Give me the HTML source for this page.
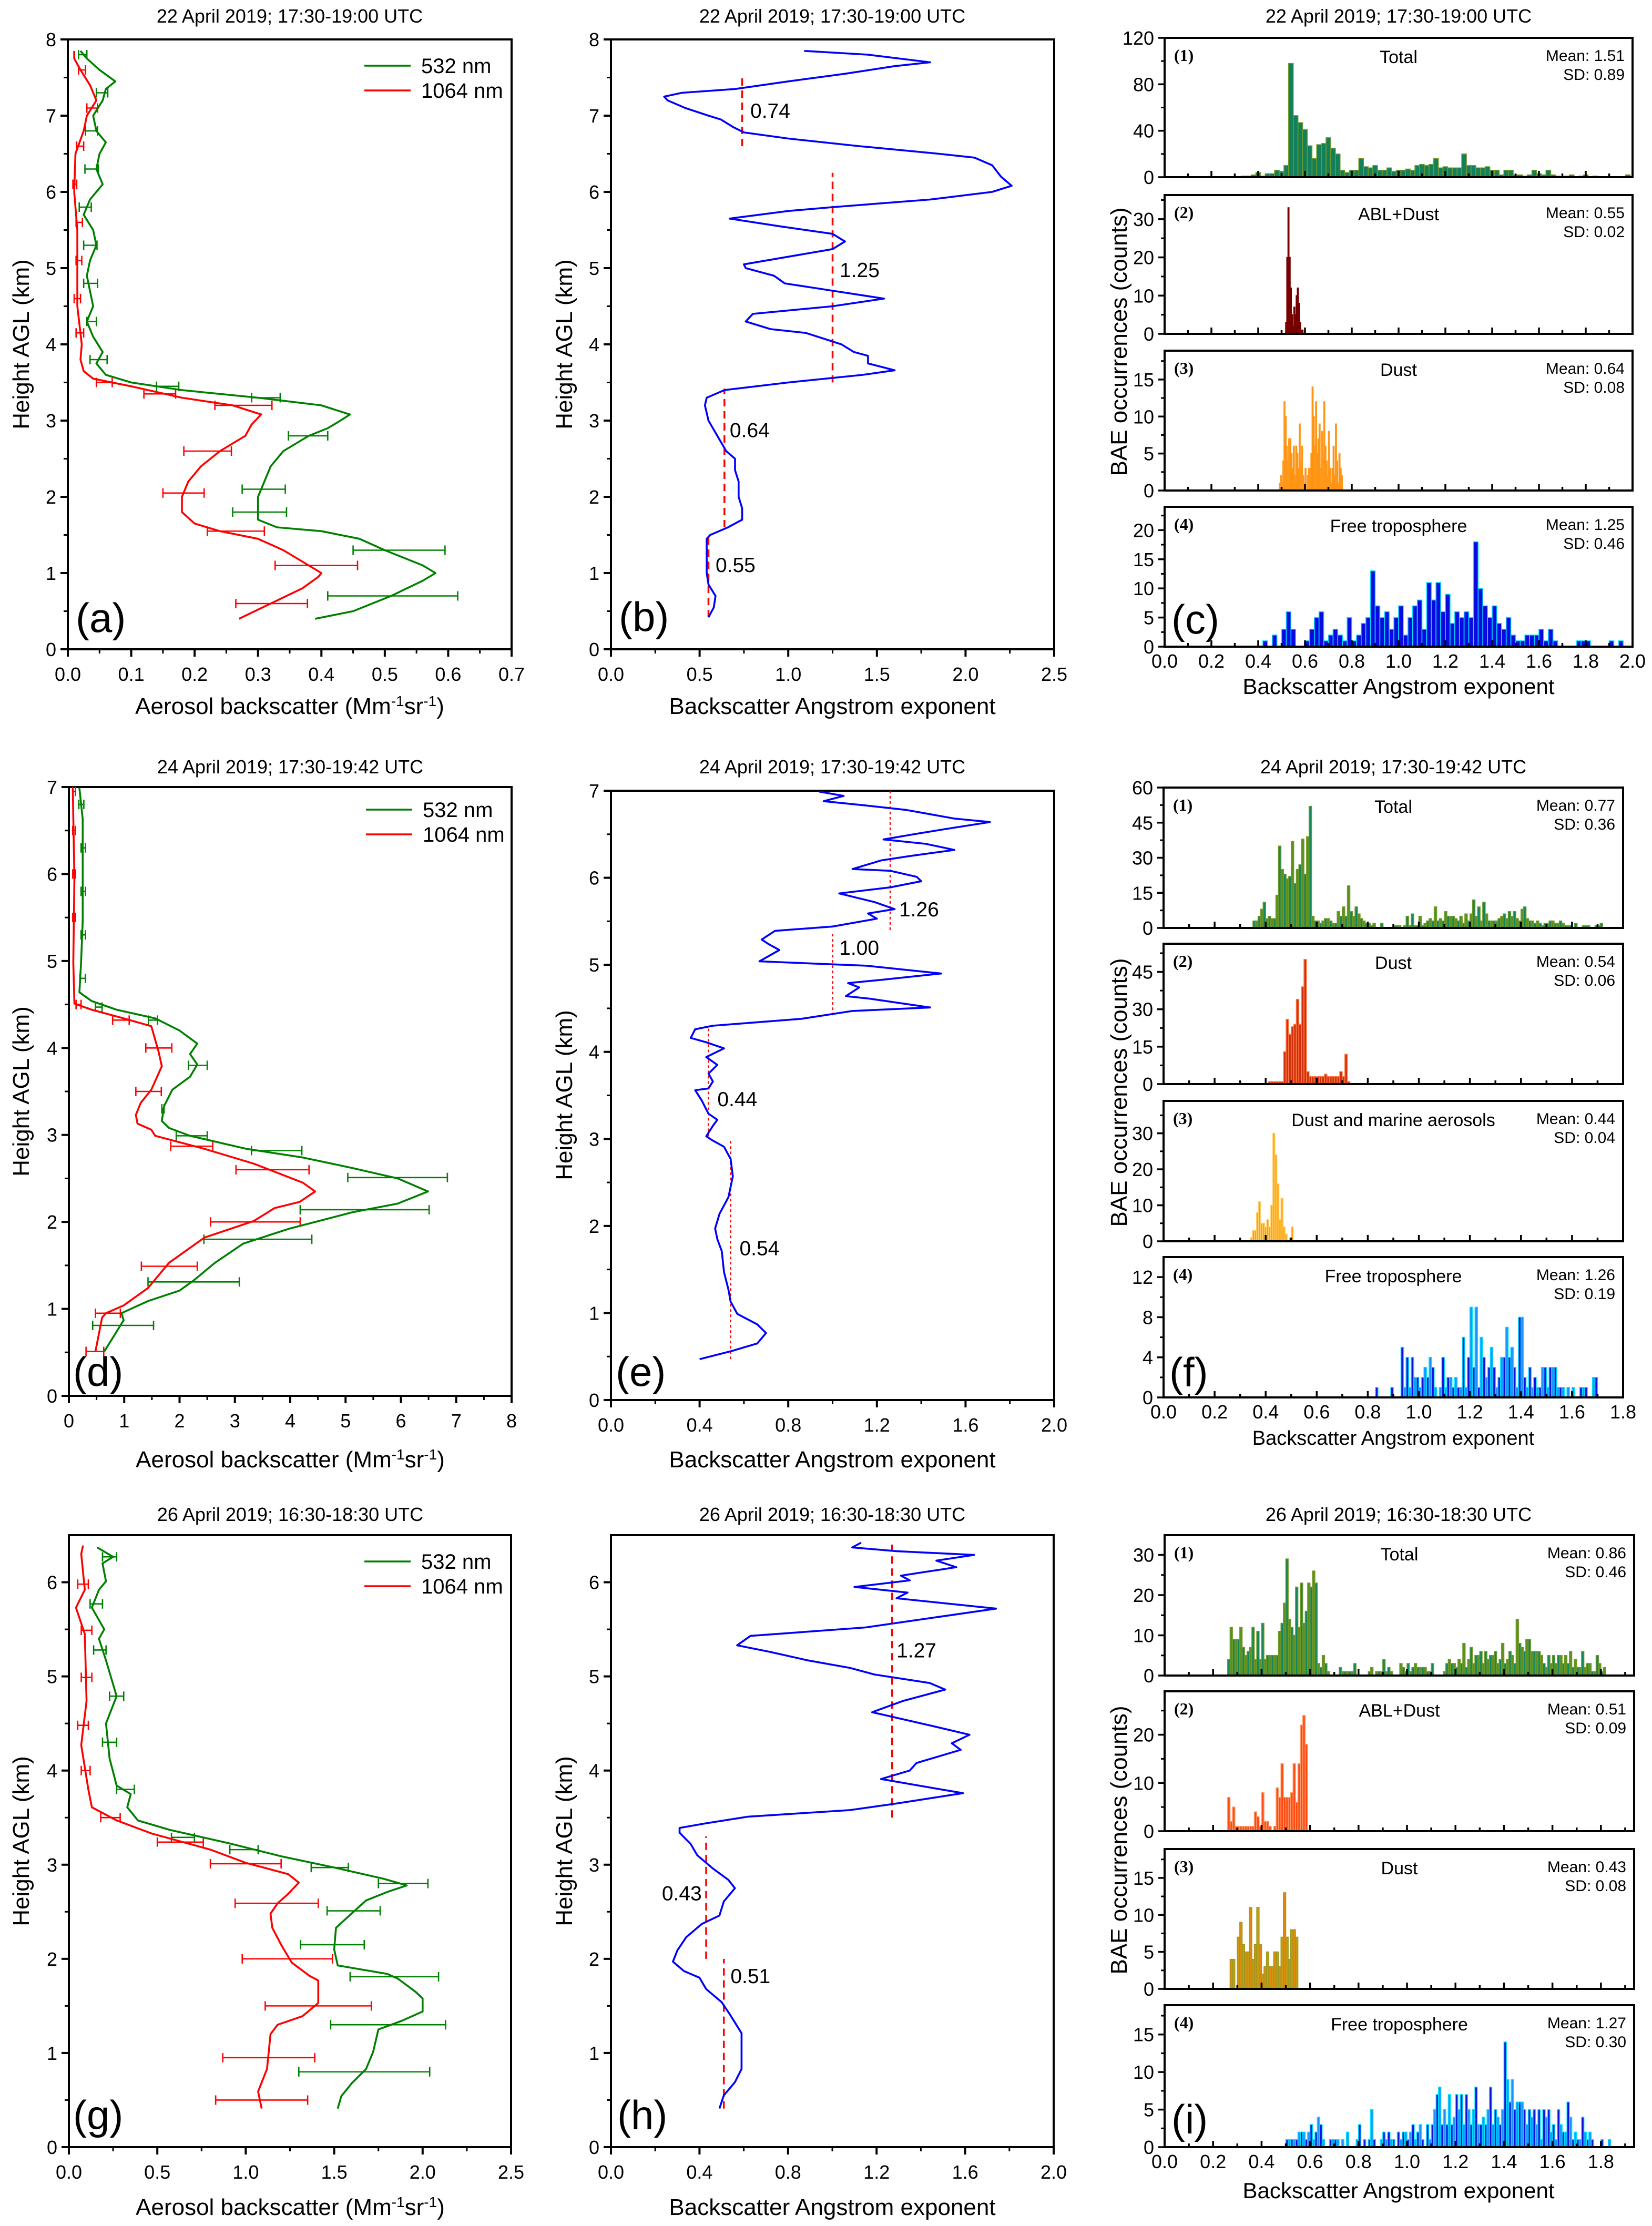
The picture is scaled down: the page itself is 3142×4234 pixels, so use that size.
<!DOCTYPE html>
<html><head><meta charset="utf-8"><title>BAE profiles</title>
<style>
html,body{margin:0;padding:0;background:#fff;}
svg{display:block;font-family:"Liberation Sans",Arial,sans-serif;}
</style></head>
<body>
<svg id="fig" xmlns="http://www.w3.org/2000/svg" width="3142" height="4234" viewBox="0 0 3142 4234"></svg>
<script>
// ---------- DATA ----------
// (a) 22 April backscatter
const A_G_H=[0.4,0.5,0.7,0.9,1.0,1.1,1.3,1.45,1.55,1.6,1.7,1.9,2.0,2.2,2.4,2.6,2.8,2.9,3.0,3.08,3.2,3.3,3.4,3.5,3.6,3.75,3.9,4.1,4.3,4.5,4.7,4.9,5.1,5.3,5.5,5.7,5.9,6.1,6.3,6.5,6.65,6.8,7.0,7.2,7.35,7.45,7.6,7.75,7.85];
const A_G_X=[0.39,0.45,0.51,0.56,0.58,0.56,0.50,0.46,0.40,0.33,0.30,0.30,0.30,0.31,0.32,0.34,0.38,0.41,0.43,0.445,0.40,0.30,0.18,0.10,0.06,0.045,0.055,0.04,0.03,0.04,0.035,0.03,0.035,0.045,0.04,0.025,0.035,0.055,0.045,0.05,0.06,0.045,0.04,0.055,0.06,0.075,0.05,0.03,0.02];
const A_R_H=[0.4,0.6,0.8,0.95,1.0,1.1,1.3,1.45,1.55,1.65,1.8,2.0,2.2,2.4,2.6,2.8,2.95,3.08,3.2,3.3,3.45,3.55,3.65,3.8,4.0,4.5,5.0,5.5,6.0,6.5,6.8,7.0,7.2,7.4,7.6,7.75,7.85];
const A_R_X=[0.27,0.32,0.37,0.395,0.40,0.38,0.34,0.30,0.24,0.20,0.18,0.18,0.19,0.21,0.24,0.28,0.29,0.305,0.26,0.18,0.10,0.04,0.025,0.02,0.022,0.015,0.015,0.015,0.01,0.012,0.025,0.03,0.045,0.035,0.02,0.01,0.01];
const A_GE_H=[0.7,1.3,1.8,2.1,2.8,3.3,3.45,3.8,4.3,4.8,5.3,5.8,6.3,6.8,7.3,7.8];
const A_GE_LO=[0.41,0.45,0.26,0.275,0.348,0.29,0.14,0.035,0.03,0.025,0.025,0.018,0.027,0.028,0.045,0.017];
const A_GE_HI=[0.615,0.595,0.345,0.343,0.41,0.335,0.175,0.062,0.045,0.047,0.046,0.037,0.048,0.047,0.063,0.03];
const A_RE_H=[0.6,1.1,1.55,2.05,2.6,3.2,3.35,3.5,4.15,4.6,5.1,5.6,6.1,6.6,7.1,7.6];
const A_RE_LO=[0.265,0.327,0.22,0.15,0.183,0.232,0.12,0.045,0.013,0.01,0.013,0.013,0.008,0.014,0.03,0.017];
const A_RE_HI=[0.378,0.457,0.31,0.215,0.258,0.322,0.17,0.07,0.025,0.02,0.022,0.023,0.014,0.025,0.047,0.028];
// (b)
const B_H=[0.42,0.55,0.7,0.85,1.0,1.2,1.45,1.5,1.6,1.7,1.85,2.0,2.2,2.35,2.5,2.6,2.8,3.0,3.2,3.3,3.4,3.5,3.6,3.66,3.75,3.85,3.9,4.0,4.15,4.2,4.3,4.4,4.5,4.6,4.7,4.8,4.9,5.0,5.05,5.15,5.25,5.35,5.45,5.55,5.65,5.75,5.8,5.9,6.0,6.08,6.2,6.35,6.45,6.5,6.6,6.7,6.78,6.85,6.95,7.0,7.1,7.2,7.25,7.3,7.35,7.45,7.55,7.65,7.7,7.8,7.85];
const B_X=[0.55,0.58,0.59,0.55,0.54,0.54,0.54,0.56,0.66,0.74,0.74,0.72,0.72,0.70,0.70,0.65,0.60,0.55,0.53,0.54,0.64,1.0,1.42,1.60,1.45,1.45,1.37,1.30,1.10,0.90,0.76,0.80,1.25,1.54,1.26,0.98,0.92,0.76,0.75,1.0,1.25,1.32,1.25,0.95,0.67,1.0,1.25,1.8,2.15,2.26,2.2,2.15,2.05,1.85,1.4,1.0,0.75,0.69,0.62,0.55,0.42,0.32,0.30,0.40,0.70,1.0,1.32,1.6,1.80,1.45,1.09];
const B_MEAN=[0.55,0.64,1.25,0.74];
const B_MEAN_FROM=[0.42,1.6,3.5,6.6];
const B_MEAN_TO=[1.5,3.42,6.25,7.55];
const B_LBL_X=[0.59,0.67,1.29,0.786];
const B_LBL_H=[1.11,2.88,4.98,7.07];
// (c)
const C1=[1,1,2,4,1,3,3,6,5,10,98,53,47,41,27,16,28,29,34,25,20,6,4,6,6,16,9,8,10,6,6,8,5,6,6,7,6,10,11,10,11,16,8,9,8,8,8,20,10,10,8,8,9,6,6,2,6,6,2,2,1,2,6,3,2,6,2,1,0,1,2,0,1,2,0,1,0,0,0,0,0,0,2];
const C2=[3,20,33,20,12,5,2,7,5,10,12,8,3,1,1];
const C3=[1,2,1,4,12,10,6,4,7,7,5,3,6,2,6,5,3,9,4,6,2,1,3,0,2,3,3,5,14,10,6,12,5,7,9,3,8,5,12,6,4,2,8,3,1,3,6,2,9,4,1,5,3,2];
const C4=[1,0,2,0,3,6,3,0,0,1,3,5,6,1,2,3,2,1,5,1,2,4,5,13,7,5,6,3,5,7,2,5,7,8,3,11,8,11,6,9,4,6,5,6,5,18,10,7,5,7,4,3,5,2,1,1,2,2,2,3,1,3,1,0,0,0,0,1,1,1,0,0,0,0,1,0,1];
// (d)
const D_G_H=[0.51,0.87,0.95,1.09,1.21,1.33,1.53,1.75,1.92,2.11,2.21,2.35,2.50,2.62,2.74,2.84,2.99,3.08,3.16,3.33,3.52,3.67,3.81,3.93,4.05,4.2,4.34,4.44,4.54,4.64,4.98,5.46,5.95,6.63,6.99];
const D_G_X=[0.64,0.99,0.95,1.43,2.0,2.26,2.64,3.15,3.97,5.12,5.94,6.49,5.94,5.12,4.23,3.21,2.19,1.81,1.68,1.72,1.87,2.19,2.32,2.19,2.32,2.0,1.56,0.86,0.41,0.19,0.22,0.25,0.25,0.25,0.19];
const D_R_H=[0.51,0.90,0.95,1.04,1.24,1.53,1.82,2.01,2.16,2.23,2.35,2.45,2.67,2.84,2.99,3.06,3.13,3.23,3.37,3.52,3.79,3.96,4.25,4.34,4.44,4.51,4.98,5.95,6.99];
const D_R_X=[0.48,0.60,0.67,0.99,1.43,1.81,2.45,3.34,3.72,4.17,4.45,4.23,3.34,2.45,1.56,1.49,1.24,1.21,1.30,1.49,1.68,1.62,1.49,0.99,0.41,0.10,0.08,0.10,0.07];
const D_GE_H=[0.81,1.31,1.80,2.14,2.51,2.82,2.99,3.30,3.80,4.32,4.47,4.8,5.3,5.8,6.3,6.8];
const D_GE_LO=[0.43,1.43,2.44,4.18,5.04,3.30,1.94,1.68,2.16,1.44,0.48,0.20,0.22,0.22,0.22,0.18];
const D_GE_HI=[1.53,3.08,4.39,6.51,6.84,4.21,2.50,1.72,2.50,1.60,0.60,0.30,0.30,0.30,0.30,0.27];
const D_RE_H=[0.51,0.95,1.49,2.0,2.60,2.87,3.50,4.0,4.32,4.5,5.5,6.0,6.5,6.95];
const D_RE_LO=[0.31,0.48,1.31,2.56,3.02,1.84,1.21,1.39,0.79,0.13,0.07,0.07,0.07,0.07];
const D_RE_HI=[0.63,0.93,2.32,4.18,4.34,2.60,1.67,1.86,1.09,0.22,0.12,0.12,0.12,0.12];
// (e)
const E_H=[0.47,0.56,0.65,0.77,0.87,0.99,1.13,1.27,1.47,1.71,1.85,1.97,2.14,2.33,2.57,2.77,2.91,2.98,3.03,3.15,3.22,3.29,3.44,3.56,3.58,3.66,3.75,3.85,3.94,4.04,4.11,4.16,4.26,4.30,4.38,4.47,4.51,4.61,4.64,4.74,4.79,4.83,4.90,4.99,5.04,5.17,5.24,5.29,5.39,5.44,5.53,5.59,5.64,5.72,5.82,5.89,5.96,6.01,6.08,6.10,6.20,6.25,6.32,6.39,6.44,6.51,6.56,6.64,6.68,6.78,6.83,6.88,6.94,6.99];
const E_X=[0.40,0.54,0.66,0.70,0.66,0.57,0.54,0.53,0.51,0.50,0.48,0.47,0.49,0.53,0.55,0.54,0.51,0.46,0.43,0.46,0.48,0.44,0.41,0.38,0.44,0.46,0.44,0.48,0.43,0.51,0.43,0.36,0.38,0.46,0.86,1.09,1.44,1.17,1.06,1.12,1.07,1.23,1.49,1.15,0.67,0.76,0.71,0.68,0.74,1.0,1.20,1.16,1.28,1.19,1.03,1.26,1.40,1.38,1.26,1.09,1.22,1.35,1.55,1.42,1.23,1.39,1.51,1.71,1.55,1.33,1.15,0.96,1.05,0.94];
const E_MEAN=[0.54,0.44,1.00,1.26];
const E_MEAN_FROM=[0.47,3.03,4.42,5.4];
const E_MEAN_TO=[3.0,4.3,5.38,7.0];
const E_LBL_X=[0.58,0.48,1.03,1.30];
const E_LBL_H=[1.75,3.46,5.2,5.64];
// (f)
const F1=[3,3,5,8,11,4,5,4,4,14,35,25,23,21,22,37,19,25,27,38,23,39,52,5,3,3,2,3,4,4,3,2,2,7,5,9,5,18,7,5,9,6,4,3,2,2,1,2,0,0,2,0,0,0,0,1,1,1,0,1,5,1,6,1,1,5,1,2,3,4,3,9,3,4,3,7,5,5,5,4,3,5,2,6,3,6,12,5,9,3,11,6,3,3,3,3,4,5,6,4,7,5,7,4,3,8,9,4,3,3,2,3,2,1,2,2,3,3,2,2,3,2,1,1,1,0,2,0,0,1,1,1,0,0,1,1,2];
const F2=[1,1,1,1,1,1,13,26,20,23,24,34,24,39,50,5,3,3,3,3,3,3,4,3,3,3,3,3,5,3,12,1];
const F3=[1,3,3,8,11,5,5,4,6,4,10,30,24,16,6,12,4,2,0,1,4];
const F4=[1,0,0,0,0,0,1,0,0,0,5,1,4,1,4,2,2,1,2,3,2,4,3,1,0,1,4,1,2,2,1,2,1,1,6,1,4,9,3,9,1,6,4,2,3,5,3,1,2,4,4,7,4,5,3,1,8,8,2,1,3,1,2,1,1,3,3,1,3,3,3,1,1,1,0,1,0,1,0,0,1,1,1,0,0,2,2];
// (g)
const G_G_H=[0.41,0.54,0.68,0.83,1.01,1.25,1.34,1.44,1.58,1.65,1.79,1.84,1.93,2.10,2.33,2.45,2.62,2.71,2.78,2.85,2.97,3.09,3.23,3.37,3.47,3.61,3.75,3.84,4.13,4.50,4.79,5.17,5.40,5.50,5.73,5.92,6.01,6.20,6.27,6.37];
const G_G_X=[1.52,1.54,1.60,1.68,1.72,1.75,1.88,2.0,2.0,1.96,1.86,1.80,1.52,1.50,1.51,1.58,1.68,1.80,1.91,1.78,1.50,1.20,0.90,0.57,0.39,0.33,0.35,0.27,0.23,0.21,0.27,0.21,0.17,0.20,0.13,0.17,0.21,0.19,0.25,0.16];
const G_R_H=[0.41,0.59,0.83,1.20,1.30,1.39,1.53,1.77,1.82,1.96,2.15,2.33,2.48,2.59,2.69,2.81,2.90,3.02,3.16,3.33,3.47,3.61,3.80,4.27,4.74,5.45,5.73,5.92,6.30,6.39];
const G_R_X=[1.09,1.07,1.12,1.14,1.18,1.32,1.41,1.41,1.36,1.26,1.20,1.15,1.14,1.18,1.24,1.30,1.24,1.0,0.80,0.47,0.27,0.13,0.11,0.07,0.10,0.09,0.04,0.09,0.07,0.08];
const G_GE_H=[0.80,1.30,1.81,2.15,2.51,2.80,2.97,3.16,3.29,3.80,4.30,4.79,5.28,5.77,6.27];
const G_GE_LO=[1.30,1.48,1.59,1.31,1.46,1.75,1.37,0.91,0.58,0.27,0.19,0.23,0.14,0.12,0.19];
const G_GE_HI=[2.04,2.13,2.09,1.67,1.76,2.03,1.58,1.07,0.71,0.37,0.27,0.31,0.21,0.19,0.27];
const G_RE_H=[0.50,0.95,1.50,2.0,2.59,3.01,3.24,3.50,4.0,4.48,4.99,5.49,5.98];
const G_RE_LO=[0.83,0.87,1.11,0.98,0.94,0.80,0.50,0.18,0.07,0.05,0.07,0.07,0.05];
const G_RE_HI=[1.35,1.39,1.71,1.49,1.41,1.20,0.76,0.29,0.12,0.11,0.13,0.13,0.11];
// (h)
const H_H=[0.41,0.55,0.69,0.83,1.07,1.21,1.40,1.54,1.68,1.80,1.87,1.97,2.09,2.23,2.37,2.46,2.61,2.75,2.84,2.96,3.10,3.22,3.34,3.39,3.44,3.51,3.58,3.65,3.76,3.82,3.91,4.0,4.08,4.22,4.29,4.38,4.48,4.62,4.74,4.86,4.93,5.02,5.09,5.17,5.26,5.33,5.43,5.52,5.72,5.83,5.89,5.95,6.02,6.07,6.16,6.23,6.29,6.33,6.37,6.42];
const H_X=[0.49,0.51,0.56,0.59,0.59,0.59,0.54,0.50,0.43,0.40,0.33,0.28,0.30,0.34,0.41,0.49,0.51,0.56,0.53,0.46,0.39,0.36,0.31,0.31,0.43,0.62,1.08,1.29,1.59,1.44,1.22,1.35,1.38,1.58,1.54,1.62,1.44,1.18,1.32,1.51,1.44,1.19,1.08,0.89,0.72,0.57,0.63,1.15,1.74,1.29,1.34,1.10,1.35,1.31,1.56,1.47,1.64,1.29,1.09,1.13];
const H_MEAN=[0.51,0.43,1.27];
const H_MEAN_FROM=[0.41,2.0,3.5];
const H_MEAN_TO=[2.0,3.3,6.4];
const H_LBL_X=[0.54,0.23,1.29];
const H_LBL_H=[1.82,2.70,5.28];
// (i)
const I1=[4,12,9,9,9,12,7,5,6,7,12,4,11,4,13,4,5,5,5,5,5,11,13,18,29,14,12,10,22,12,23,13,16,23,22,26,23,3,2,5,3,1,0,0,0,0,2,1,1,1,1,1,3,0,0,0,0,0,1,2,0,1,1,1,4,1,2,1,0,0,0,3,2,1,3,1,2,3,2,2,2,2,1,1,3,0,0,0,0,1,3,4,3,3,2,4,3,8,2,4,7,3,5,5,6,3,6,4,5,5,6,3,4,8,3,4,6,5,3,14,8,7,6,9,9,6,6,6,6,5,3,2,5,3,5,3,5,5,3,5,3,6,2,4,2,2,6,2,3,3,1,1,5,3,1,2];
const I2=[7,2,5,1,1,1,1,1,1,1,1,4,3,1,8,2,2,1,0,1,9,7,14,7,7,7,8,14,6,14,22,24,18];
const I3=[4,4,0,7,9,6,5,5,11,4,6,11,6,2,3,5,3,3,5,5,3,7,13,7,4,8,8,7];
const I4=[1,1,1,1,1,2,2,2,1,2,3,1,2,4,3,1,0,0,1,1,1,1,0,1,0,2,0,0,0,1,3,0,1,0,1,5,1,0,0,1,2,1,2,1,1,0,2,1,2,2,1,2,3,1,2,3,1,0,3,1,3,5,7,8,3,5,3,7,3,4,7,5,7,3,7,5,3,5,8,3,3,4,3,5,8,3,5,4,3,5,14,9,6,9,5,6,6,6,5,3,5,4,5,3,5,1,5,4,5,2,3,1,5,3,2,2,6,4,1,2,1,1,4,2,1,2,1,0,0,0,1,0,0,1];
// tick label arrays
const TICKS_A_X=["0.0","0.1","0.2","0.3","0.4","0.5","0.6","0.7"];
const TICKS_B_X=["0.0","0.5","1.0","1.5","2.0","2.5"];
const TICKS_D_X=["0","1","2","3","4","5","6","7","8"];
const TICKS_E_X=["0.0","0.4","0.8","1.2","1.6","2.0"];
const TICKS_HC_X=["0.0","0.2","0.4","0.6","0.8","1.0","1.2","1.4","1.6","1.8","2.0"];
const TICKS_HF_X=["0.0","0.2","0.4","0.6","0.8","1.0","1.2","1.4","1.6","1.8"];

// ---------- DRAWING ----------
const NS="http://www.w3.org/2000/svg";
const svg=document.getElementById('fig');
function mk(tag,attrs,parent){const e=document.createElementNS(NS,tag);for(const k in attrs)e.setAttribute(k,attrs[k]);(parent||svg).appendChild(e);return e;}
function txt(s,attrs,parent){const e=mk('text',attrs,parent);e.textContent=s;return e;}
function grp(name){const g=mk('g',{});


return g;}

function profileAxes(g,B,xmax,ymax,xlabels,xmin,ylabels,ymin,dec){
  const sx=v=>B.x0+v/xmax*(B.x1-B.x0);
  const sy=h=>B.yb-h/ymax*(B.yb-B.yt);
  const r=mk('rect',{x:B.x0,y:B.yt,width:B.x1-B.x0,height:B.yb-B.yt,fill:'none',stroke:'#000','stroke-width':4},g);
  
  
  const xstep=xmax/(xlabels.length-1);
  for(let i=0;i<xlabels.length;i++){
    const v=i*xstep;
    const l=mk('line',{x1:sx(v),x2:sx(v),y1:B.yb,y2:B.yb+14,stroke:'#000','stroke-width':4},g);
    
    
    const t=txt(xlabels[i],{x:sx(v),y:B.yb+60,'font-size':36,'text-anchor':'middle'},g);
    
    
  }
  for(let v=xmin;v<xmax-1e-9;v+=xstep){
    const l=mk('line',{x1:sx(v),x2:sx(v),y1:B.yb,y2:B.yb+8,stroke:'#000','stroke-width':3},g);
    
    
  }
  for(let i=0;i<ylabels.length;i++){
    const h=+ylabels[i];
    const l=mk('line',{x1:B.x0-14,x2:B.x0,y1:sy(h),y2:sy(h),stroke:'#000','stroke-width':4},g);
    
    
    const t=txt(ylabels[i],{x:B.x0-22,y:sy(h)+13,'font-size':36,'text-anchor':'end'},g);
    
    
    if(h+0.5<ymax-1e-9){
      const m=mk('line',{x1:B.x0-8,x2:B.x0,y1:sy(h+0.5),y2:sy(h+0.5),stroke:'#000','stroke-width':3},g);
      
      
    }
  }
  return {sx,sy};
}
function curve(g,S,H,X,color,name){
  let d='';
  for(let i=0;i<H.length;i++)d+=(i?'L':'M')+S.sx(X[i]).toFixed(1)+','+S.sy(H[i]).toFixed(1);
  const p=mk('path',{d:d,fill:'none',stroke:color,'stroke-width':3.6,'stroke-linejoin':'round'},g);
  
  
}
function errbars(g,S,H,LO,HI,color,name){
  for(let i=0;i<H.length;i++){
    const y=S.sy(H[i]),a=S.sx(LO[i]),b=S.sx(HI[i]);
    const p=mk('path',{d:`M${a},${y}H${b}M${a},${y-9}V${y+9}M${b},${y-9}V${y+9}`,fill:'none',stroke:color,'stroke-width':2.6},g);
    
    
  }
}
function meanLines(g,S,M,F,T,LX,LH,dash,w){
  for(let i=0;i<M.length;i++){
    const l=mk('line',{x1:S.sx(M[i]),x2:S.sx(M[i]),y1:S.sy(F[i]),y2:S.sy(T[i]),stroke:'#ff0000','stroke-width':w,'stroke-dasharray':dash},g);
    
    
    const t=txt(M[i].toFixed(2),{x:S.sx(LX[i]),y:S.sy(LH[i])+14,'font-size':39},g);
    
    
  }
}
function legend(g,x,y){
  const items=[['532 nm','#008000'],['1064 nm','#ff0000']];
  for(let i=0;i<2;i++){
    const l=mk('line',{x1:x,x2:x+88,y1:y+i*47,y2:y+i*47,stroke:items[i][1],'stroke-width':3.6},g);
    
    
    const t=txt(items[i][0],{x:x+108,y:y+i*47+14,'font-size':40},g);
    
    
  }
}
function label(g,s,attrs,name){const t=txt(s,attrs,g);
  
  
  return t;}
function backTitle(g,cx,y){
  const t=txt('Aerosol backscatter (Mm',{x:cx,y:y,'font-size':44,'text-anchor':'middle'},g);
  
  
  const s1=mk('tspan',{'baseline-shift':'super','font-size':28},t);s1.textContent='-1';
  const s2=mk('tspan',{},t);s2.textContent='sr';
  const s3=mk('tspan',{'baseline-shift':'super','font-size':28},t);s3.textContent='-1';
  const s4=mk('tspan',{},t);s4.textContent=')';
}
function yTitle(g,s,x,cy){label(g,s,{x:0,y:0,'font-size':44,'text-anchor':'middle',transform:`translate(${x},${cy}) rotate(-90)`},'y-axis-title');}

function hist(g,X0,X1,xmax,yt,yb,ymax,start,step,counts,fills,stroke,yl,ymin,tags,showX){
  const sx=v=>X0+v/xmax*(X1-X0);
  const sy=v=>yb-v/ymax*(yb-yt);
  const w=sx(step)-sx(0);
  for(let i=0;i<counts.length;i++){
    if(counts[i]<=0)continue;
    const r=mk('rect',{x:sx(start+i*step),y:sy(counts[i]),width:w,height:yb-sy(counts[i]),fill:fills[i%fills.length],stroke:stroke,'stroke-width':1.6},g);
    
    
  }
  const fr=mk('rect',{x:X0,y:yt,width:X1-X0,height:yb-yt,fill:'none',stroke:'#000','stroke-width':4},g);
  
  
  for(let k=0;k*0.1<=xmax+1e-9;k++){
    const v=k*0.1, maj=(k%2===0);
    const l=mk('line',{x1:sx(v),x2:sx(v),y1:yb,y2:yb-(maj?12:7),stroke:'#000','stroke-width':3.5},g);
    
    
  }
  if(showX){
    for(let i=0;i<showX.length;i++){
      const t=txt(showX[i],{x:sx(i*0.2),y:yb+40,'font-size':36,'text-anchor':'middle'},g);
      
      
    }
  }
  for(let i=0;i<yl.length;i++){
    const v=yl[i];
    const l=mk('line',{x1:X0-12,x2:X0,y1:sy(v),y2:sy(v),stroke:'#000','stroke-width':3.5},g);
    
    
    if(v+ymin<ymax-1e-9){
      const m=mk('line',{x1:X0-7,x2:X0,y1:sy(v+ymin),y2:sy(v+ymin),stroke:'#000','stroke-width':3},g);
      
      
    }
    const t=txt(String(v),{x:X0-20,y:sy(v)+13,'font-size':36,'text-anchor':'end'},g);
    
    
  }
  label(g,tags[0],{x:X0+18,y:yt+44,'font-size':32,'font-weight':'bold','font-family':'"Liberation Serif",serif'},'subplot-number');
  label(g,tags[1],{x:(X0+X1)/2,y:yt+48,'font-size':34,'text-anchor':'middle'},'subplot-title');
  label(g,'Mean: '+tags[2],{x:X1-15,y:yt+44,'font-size':30,'text-anchor':'end'},'mean-label');
  label(g,'SD: '+tags[3],{x:X1-15,y:yt+80,'font-size':30,'text-anchor':'end'},'sd-label');
}

// ---- Row 1 ----
let g=grp('panel-a');
label(g,'22 April 2019; 17:30-19:00 UTC',{x:551,y:43,'font-size':36,'text-anchor':'middle'},'panel-title');
let S=profileAxes(g,{x0:129,x1:973,yt:75,yb:1235},0.7,8,TICKS_A_X,0.05,['0','1','2','3','4','5','6','7','8'],0);
errbars(g,S,A_GE_H,A_GE_LO,A_GE_HI,'#008000','error-bar-532');
errbars(g,S,A_RE_H,A_RE_LO,A_RE_HI,'#ff0000','error-bar-1064');
curve(g,S,A_G_H,A_G_X,'#008000','line-532nm');
curve(g,S,A_R_H,A_R_X,'#ff0000','line-1064nm');
legend(g,693,125);
label(g,'(a)',{x:144,y:1202,'font-size':78},'panel-letter');
backTitle(g,551,1358);
yTitle(g,'Height AGL (km)',55,655);

g=grp('panel-b');
label(g,'22 April 2019; 17:30-19:00 UTC',{x:1583,y:43,'font-size':36,'text-anchor':'middle'},'panel-title');
S=profileAxes(g,{x0:1162,x1:2005,yt:75,yb:1235},2.5,8,TICKS_B_X,0.25,['0','1','2','3','4','5','6','7','8'],0);
meanLines(g,S,B_MEAN,B_MEAN_FROM,B_MEAN_TO,B_LBL_X,B_LBL_H,'14,9',3.5);
curve(g,S,B_H,B_X,'#0000ff','bae-profile');
label(g,'(b)',{x:1177,y:1200,'font-size':78},'panel-letter');
label(g,'Backscatter Angstrom exponent',{x:1583,y:1358,'font-size':44,'text-anchor':'middle'},'x-axis-title');
yTitle(g,'Height AGL (km)',1088,655);

g=grp('panel-c');
label(g,'22 April 2019; 17:30-19:00 UTC',{x:2660,y:43,'font-size':36,'text-anchor':'middle'},'panel-title');
hist(g,2215,3105,2.0,72,337,120,0.33,0.02,C1,['#13805a'],'#6f9a2a',[0,40,80,120],20,['(1)','Total','1.51','0.89']);
hist(g,2215,3105,2.0,371,635,36.3,0.517,0.005,C2,['#8b0000'],'#700000',[0,10,20,30],5,['(2)','ABL+Dust','0.55','0.02']);
hist(g,2215,3105,2.0,667,933,18.9,0.49,0.005,C3,['#ff8c00'],'#ff9a20',[0,5,10,15],2.5,['(3)','Dust','0.64','0.08']);
hist(g,2215,3105,2.0,964,1230,24,0.42,0.02,C4,['#0a0ae0'],'#00e0ff',[0,5,10,15,20],2.5,['(4)','Free troposphere','1.25','0.46'],TICKS_HC_X);
label(g,'(c)',{x:2228,y:1205,'font-size':78},'panel-letter');
label(g,'Backscatter Angstrom exponent',{x:2660,y:1320,'font-size':42,'text-anchor':'middle'},'x-axis-title');
yTitle(g,'BAE occurrences (counts)',2143,650);

// ---- Row 2 ----
g=grp('panel-d');
label(g,'24 April 2019; 17:30-19:42 UTC',{x:552,y:1471,'font-size':36,'text-anchor':'middle'},'panel-title');
S=profileAxes(g,{x0:131,x1:973,yt:1497,yb:2655},8,7,TICKS_D_X,0.5,['0','1','2','3','4','5','6','7'],0);
errbars(g,S,D_GE_H,D_GE_LO,D_GE_HI,'#008000','error-bar-532');
errbars(g,S,D_RE_H,D_RE_LO,D_RE_HI,'#ff0000','error-bar-1064');
curve(g,S,D_G_H,D_G_X,'#008000','line-532nm');
curve(g,S,D_R_H,D_R_X,'#ff0000','line-1064nm');
legend(g,696,1540);
label(g,'(d)',{x:139,y:2636,'font-size':78},'panel-letter');
backTitle(g,552,2791);
yTitle(g,'Height AGL (km)',55,2076);

g=grp('panel-e');
label(g,'24 April 2019; 17:30-19:42 UTC',{x:1583,y:1471,'font-size':36,'text-anchor':'middle'},'panel-title');
S=profileAxes(g,{x0:1162,x1:2005,yt:1504,yb:2663},2.0,7,TICKS_E_X,0.2,['0','1','2','3','4','5','6','7'],0);
meanLines(g,S,E_MEAN,E_MEAN_FROM,E_MEAN_TO,E_LBL_X,E_LBL_H,'5,5',2.5);
curve(g,S,E_H,E_X,'#0000ff','bae-profile');
label(g,'(e)',{x:1171,y:2636,'font-size':78},'panel-letter');
label(g,'Backscatter Angstrom exponent',{x:1583,y:2791,'font-size':44,'text-anchor':'middle'},'x-axis-title');
yTitle(g,'Height AGL (km)',1088,2083);

g=grp('panel-f');
label(g,'24 April 2019; 17:30-19:42 UTC',{x:2650,y:1471,'font-size':36,'text-anchor':'middle'},'panel-title');
hist(g,2213,3087,1.8,1498,1765,60,0.35,0.01,F1,['#15865c','#5e8f1f'],'#6f9a2a',[0,15,30,45,60],7.5,['(1)','Total','0.77','0.36']);
hist(g,2213,3087,1.8,1795,2062,56.3,0.41,0.01,F2,['#d0300a'],'#ff7a4a',[0,15,30,45],7.5,['(2)','Dust','0.54','0.06']);
hist(g,2213,3087,1.8,2094,2361,39,0.34,0.008,F3,['#ffa200'],'#ffd070',[0,10,20,30],5,['(3)','Dust and marine aerosols','0.44','0.04']);
hist(g,2213,3087,1.8,2391,2658,14,0.83,0.01,F4,['#1010e0','#1e90ff'],'#00e0ff',[0,4,8,12],2,['(4)','Free troposphere','1.26','0.19'],TICKS_HF_X);
label(g,'(f)',{x:2224,y:2637,'font-size':78},'panel-letter');
label(g,'Backscatter Angstrom exponent',{x:2650,y:2748,'font-size':38,'text-anchor':'middle'},'x-axis-title');
yTitle(g,'BAE occurrences (counts)',2143,2078);

// ---- Row 3 ----
g=grp('panel-g');
label(g,'26 April 2019; 16:30-18:30 UTC',{x:552,y:2893,'font-size':36,'text-anchor':'middle'},'panel-title');
S=profileAxes(g,{x0:131,x1:972,yt:2920,yb:4084},2.5,6.5,TICKS_B_X,0.25,['0','1','2','3','4','5','6'],0);
errbars(g,S,G_GE_H,G_GE_LO,G_GE_HI,'#008000','error-bar-532');
errbars(g,S,G_RE_H,G_RE_LO,G_RE_HI,'#ff0000','error-bar-1064');
curve(g,S,G_G_H,G_G_X,'#008000','line-532nm');
curve(g,S,G_R_H,G_R_X,'#ff0000','line-1064nm');
legend(g,693,2970);
label(g,'(g)',{x:139,y:4050,'font-size':78},'panel-letter');
backTitle(g,552,4213);
yTitle(g,'Height AGL (km)',55,3502);

g=grp('panel-h');
label(g,'26 April 2019; 16:30-18:30 UTC',{x:1583,y:2893,'font-size':36,'text-anchor':'middle'},'panel-title');
S=profileAxes(g,{x0:1162,x1:2004,yt:2920,yb:4084},2.0,6.5,TICKS_E_X,0.2,['0','1','2','3','4','5','6'],0);
meanLines(g,S,H_MEAN,H_MEAN_FROM,H_MEAN_TO,H_LBL_X,H_LBL_H,'14,9',3.5);
curve(g,S,H_H,H_X,'#0000ff','bae-profile');
label(g,'(h)',{x:1174,y:4050,'font-size':78},'panel-letter');
label(g,'Backscatter Angstrom exponent',{x:1583,y:4213,'font-size':44,'text-anchor':'middle'},'x-axis-title');
yTitle(g,'Height AGL (km)',1088,3502);

g=grp('panel-i');
label(g,'26 April 2019; 16:30-18:30 UTC',{x:2660,y:2893,'font-size':36,'text-anchor':'middle'},'panel-title');
hist(g,2215,3108,1.937,2920,3187,34.9,0.26,0.01,I1,['#15865c','#5e8f1f'],'#6f9a2a',[0,10,20,30],5,['(1)','Total','0.86','0.46']);
hist(g,2215,3108,1.937,3217,3483,29,0.26,0.01,I2,['#ff4a10'],'#ff9a6a',[0,10,20],5,['(2)','ABL+Dust','0.51','0.09']);
hist(g,2215,3108,1.937,3517,3783,18.9,0.27,0.01,I3,['#e08a10','#c89a10'],'#9a9a20',[0,5,10,15],2.5,['(3)','Dust','0.43','0.08']);
hist(g,2215,3108,1.937,3814,4084,18.9,0.50,0.01,I4,['#1010e0','#1e90ff'],'#00e0ff',[0,5,10,15],2.5,['(4)','Free troposphere','1.27','0.30'],TICKS_HF_X);
label(g,'(i)',{x:2228,y:4058,'font-size':78},'panel-letter');
label(g,'Backscatter Angstrom exponent',{x:2660,y:4181,'font-size':42,'text-anchor':'middle'},'x-axis-title');
yTitle(g,'BAE occurrences (counts)',2143,3500);
</script>
</body></html>
